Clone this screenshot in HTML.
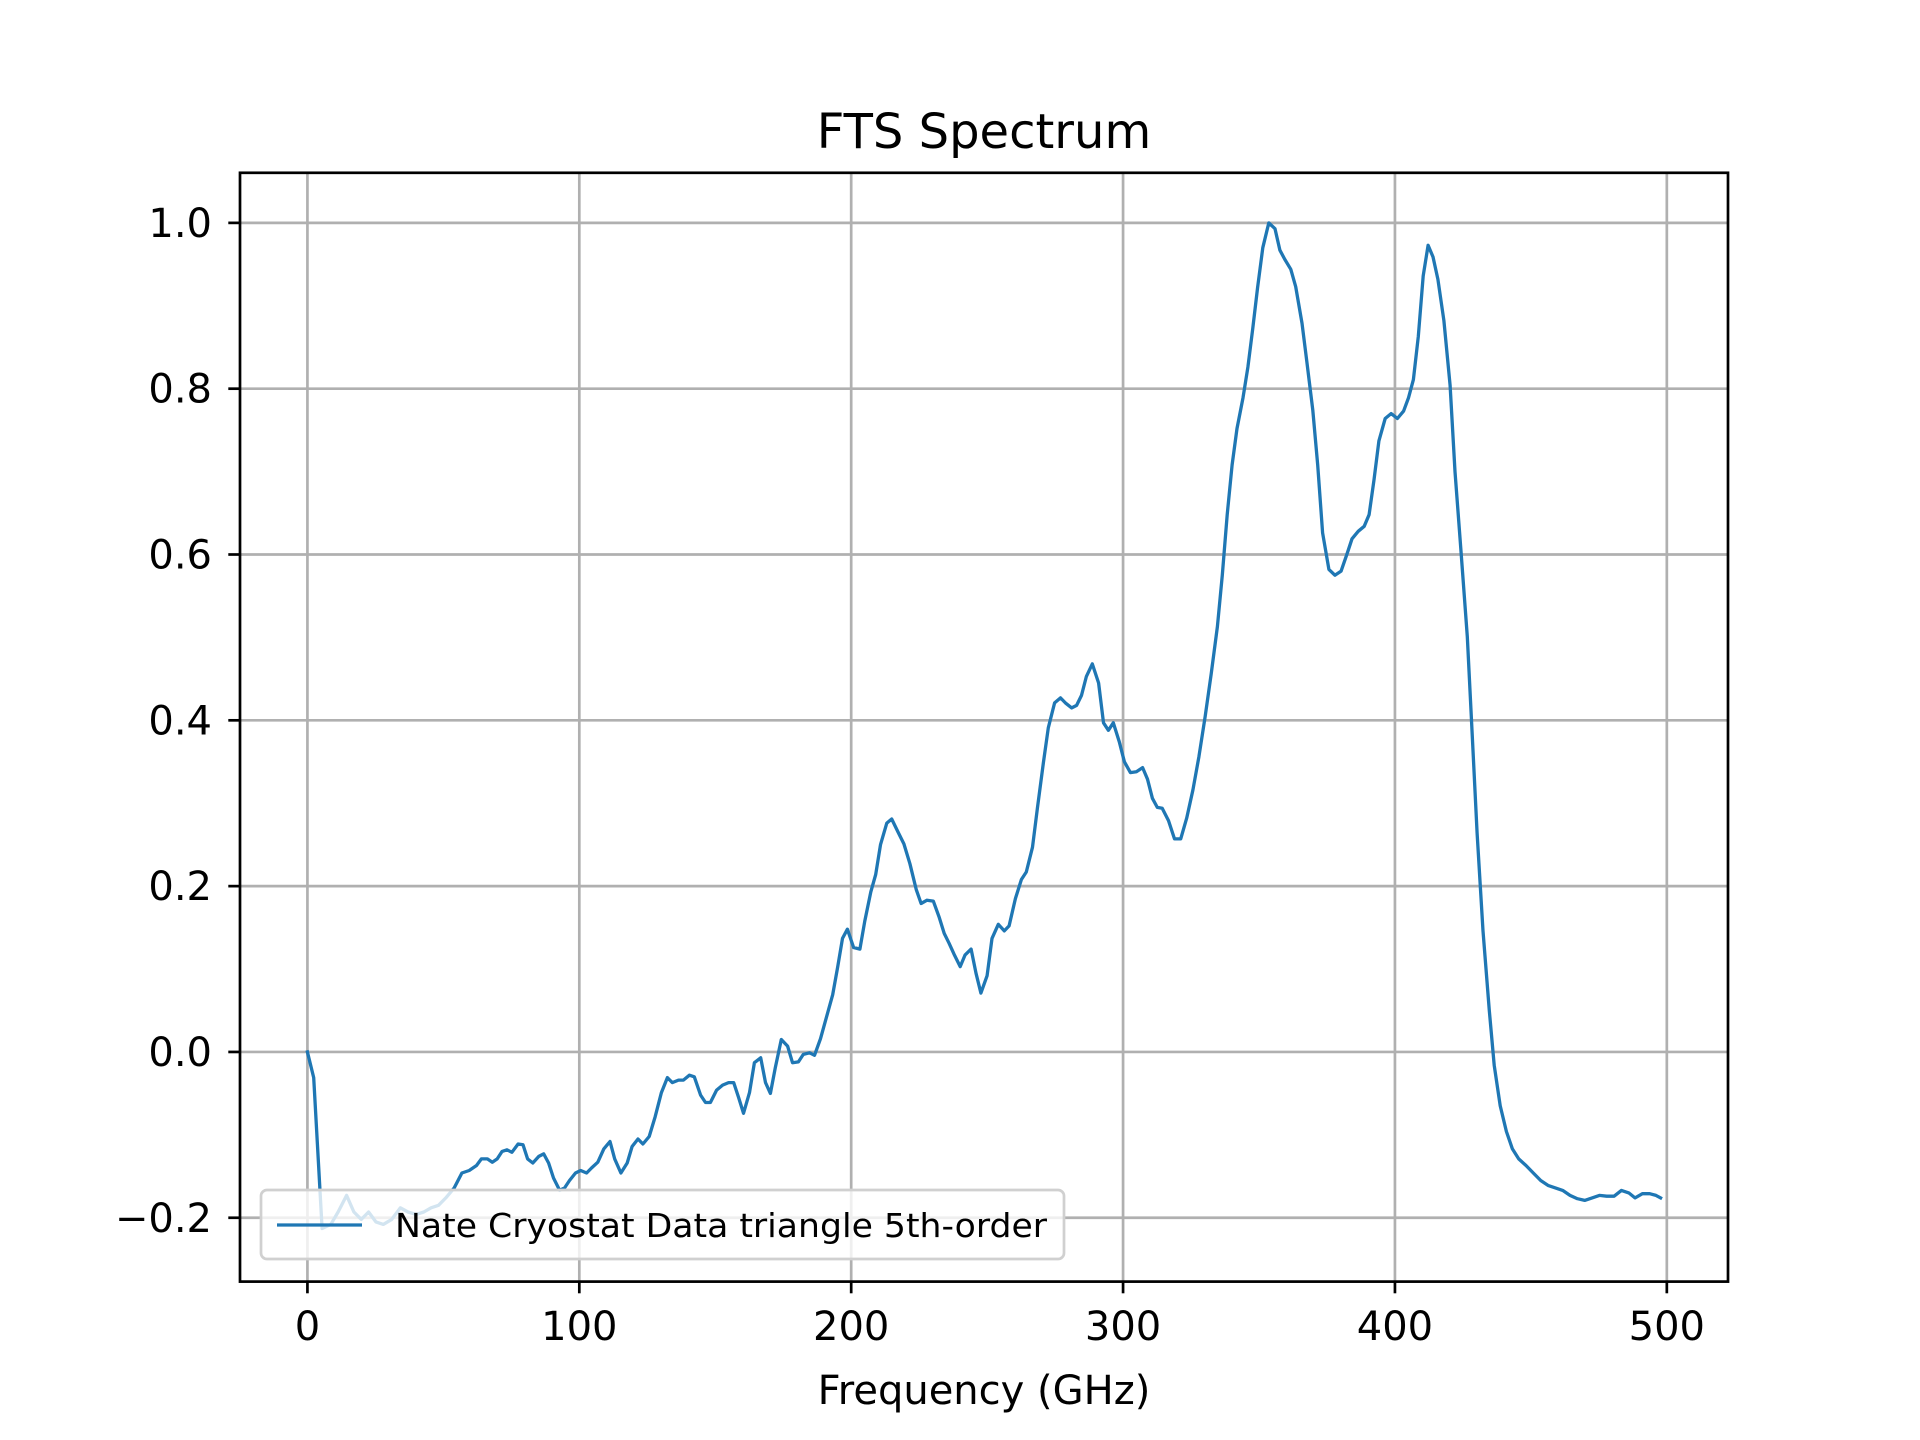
<!DOCTYPE html>
<html><head><meta charset="utf-8"><style>
html,body{margin:0;padding:0;background:#fff;}
svg{display:block;font-family:"DejaVu Sans","Liberation Sans",sans-serif;}
</style></head><body>
<svg id="chart" width="1920" height="1440" viewBox="0 0 1920 1440" xmlns="http://www.w3.org/2000/svg">
<rect x="0" y="0" width="1920" height="1440" fill="#fff"/>
<g id="grid"></g>
<g id="series"></g>
<rect x="240" y="172.8" width="1488" height="1108.8" fill="none" stroke="#000" stroke-width="2.7"/>
<g id="ticks"></g>
<text x="984" y="148" font-size="48" text-anchor="middle">FTS Spectrum</text>
<text x="984" y="1404" font-size="40" text-anchor="middle">Frequency (GHz)</text>
<g>
<rect x="261" y="1190" width="803" height="69" rx="6" fill="#fff" fill-opacity="0.8" stroke="#d0d0d0" stroke-width="2.7"/>
<line x1="277" y1="1225" x2="362" y2="1225" stroke="#1f77b4" stroke-width="3.3"/>
<text x="395" y="1237" font-size="33" textLength="652" lengthAdjust="spacingAndGlyphs">Nate Cryostat Data triangle 5th-order</text>
</g>
</svg>
<script>
const freqs = [0,2.3,5.4,8.6,11.3,14.4,17.1,19.8,22.5,25.2,27.9,31,34.2,37,40,42.8,45.5,48.2,50.9,54,56.8,59.5,62.2,64,66.2,68,69.8,71.6,73.4,75.2,77.5,79.3,81,82.9,85.1,86.9,88.7,90.5,92.8,94.6,96.4,98.6,100.5,102.7,104.5,106.8,109,111.3,113,115.3,117.6,119.4,121.6,123.4,125.7,127.9,130.2,132.4,134.2,136.5,138.3,140.5,142.3,144.6,146.4,148.2,150.5,152.7,154.9,156.8,158.6,160.4,162.6,164.4,166.7,168.5,170.3,172.1,174.3,176.6,178.4,180.6,182.4,184.7,186.5,188.7,191,193.2,195,196.8,198.6,200.9,203.2,205,207.2,209,210.8,213.1,214.9,217.1,219.4,221.6,223.9,225.7,227.9,230.2,232.4,234.2,236,237.8,240.1,241.9,244.1,245.9,247.7,250,251.8,254.1,256.3,258.1,260.4,262.6,264.4,266.7,268.5,270.7,272.5,274.8,277,278.8,281.1,282.9,284.7,286.5,288.7,291,292.8,294.6,296.4,298.6,300.5,302.7,304.9,307.2,309,310.8,312.6,314.4,316.7,318.9,321.2,323.4,325.7,327.9,330.2,332.4,334.7,336.5,338.3,340.1,341.9,344.1,345.9,347.7,349.5,351.4,353.6,355.9,357.7,359.5,361.7,363.5,365.8,367.6,369.8,371.6,373.4,375.7,377.9,380.2,382.4,384.2,386.5,388.7,390.5,392.3,394.1,396.4,398.6,400.9,403.2,405,406.8,408.6,410.4,412.2,414,415.8,418,420.3,422.1,424.3,426.6,428.4,430.2,432.4,434.7,436.5,438.7,441,443.2,445.5,448.2,450.9,453.6,456.3,459,461.7,464.4,467.1,469.8,472.5,475.2,477.9,480.6,483.3,486,488.3,491,493.7,496,497.7];
const amplitude = [0,-0.031,-0.213,-0.208,-0.193,-0.173,-0.193,-0.202,-0.193,-0.205,-0.208,-0.202,-0.188,-0.193,-0.196,-0.193,-0.188,-0.185,-0.176,-0.164,-0.146,-0.143,-0.137,-0.129,-0.129,-0.133,-0.129,-0.120,-0.118,-0.121,-0.111,-0.112,-0.129,-0.134,-0.126,-0.123,-0.134,-0.152,-0.167,-0.164,-0.155,-0.146,-0.143,-0.146,-0.140,-0.133,-0.117,-0.108,-0.129,-0.146,-0.134,-0.114,-0.105,-0.111,-0.102,-0.078,-0.049,-0.031,-0.037,-0.034,-0.034,-0.028,-0.030,-0.052,-0.061,-0.061,-0.046,-0.040,-0.037,-0.037,-0.055,-0.074,-0.049,-0.013,-0.007,-0.037,-0.050,-0.019,0.015,0.007,-0.013,-0.012,-0.003,-0.001,-0.004,0.016,0.043,0.069,0.102,0.137,0.148,0.126,0.124,0.158,0.193,0.214,0.250,0.276,0.281,0.266,0.251,0.227,0.196,0.179,0.183,0.182,0.162,0.143,0.131,0.118,0.103,0.117,0.124,0.095,0.071,0.092,0.137,0.154,0.146,0.152,0.185,0.208,0.217,0.247,0.294,0.349,0.391,0.421,0.427,0.421,0.415,0.418,0.430,0.453,0.468,0.445,0.397,0.388,0.397,0.374,0.350,0.337,0.338,0.343,0.329,0.306,0.295,0.294,0.279,0.257,0.257,0.282,0.316,0.356,0.405,0.456,0.513,0.575,0.648,0.708,0.752,0.789,0.826,0.873,0.922,0.970,1.000,0.993,0.967,0.956,0.944,0.923,0.879,0.832,0.774,0.708,0.626,0.582,0.575,0.580,0.601,0.619,0.628,0.634,0.648,0.690,0.737,0.764,0.770,0.764,0.773,0.789,0.811,0.863,0.936,0.973,0.959,0.932,0.882,0.804,0.700,0.604,0.501,0.383,0.264,0.146,0.050,-0.016,-0.065,-0.096,-0.117,-0.129,-0.137,-0.146,-0.155,-0.161,-0.164,-0.167,-0.173,-0.177,-0.179,-0.176,-0.173,-0.174,-0.174,-0.167,-0.170,-0.176,-0.171,-0.171,-0.173,-0.176];
const xTicks = [0,100,200,300,400,500];
const xTickLabels = ["0","100","200","300","400","500"];
const yTicks = [-0.2,0,0.2,0.4,0.6,0.8,1.0];
const yTickLabels = ["\u22120.2","0.0","0.2","0.4","0.6","0.8","1.0"];

const L=240,R=1728,T=172.8,B=1281.6;
const xmin=-24.8,xmax=522.5,ymin=-0.277,ymax=1.0604;
function sx(v){return L+(v-xmin)/(xmax-xmin)*(R-L);}
function sy(v){return B-(v-ymin)/(ymax-ymin)*(B-T);}
const NS="http://www.w3.org/2000/svg";
function mk(tag,attrs,parent){const e=document.createElementNS(NS,tag);for(const k in attrs)e.setAttribute(k,attrs[k]);parent.appendChild(e);return e;}
const grid=document.getElementById('grid'),ticks=document.getElementById('ticks'),series=document.getElementById('series');
xTicks.forEach((v,i)=>{
  const x=sx(v);
  const g=mk('line',{x1:x,y1:T,x2:x,y2:B,stroke:'#b0b0b0','stroke-width':2.7},grid);
  
  
  const t=mk('line',{x1:x,y1:B,x2:x,y2:B+11.7,stroke:'#000','stroke-width':2.7},ticks);
  
  
  const tx=mk('text',{x:x,y:1340,'font-size':40,'text-anchor':'middle'},ticks);
  tx.textContent=xTickLabels[i];
  
  
});
yTicks.forEach((v,i)=>{
  const y=sy(v);
  const g=mk('line',{x1:L,y1:y,x2:R,y2:y,stroke:'#b0b0b0','stroke-width':2.7},grid);
  
  
  const t=mk('line',{x1:L-11.7,y1:y,x2:L,y2:y,stroke:'#000','stroke-width':2.7},ticks);
  
  
  const tx=mk('text',{x:212,y:y+14,'font-size':40,'text-anchor':'end'},ticks);
  tx.textContent=yTickLabels[i];
  
  
});
const pts=freqs.map((f,i)=>sx(f).toFixed(1)+','+sy(amplitude[i]).toFixed(1)).join(' ');
const pl=mk('polyline',{points:pts,fill:'none',stroke:'#1f77b4','stroke-width':3.3,'stroke-linejoin':'round','stroke-linecap':'square'},series);


</script>
</body></html>
